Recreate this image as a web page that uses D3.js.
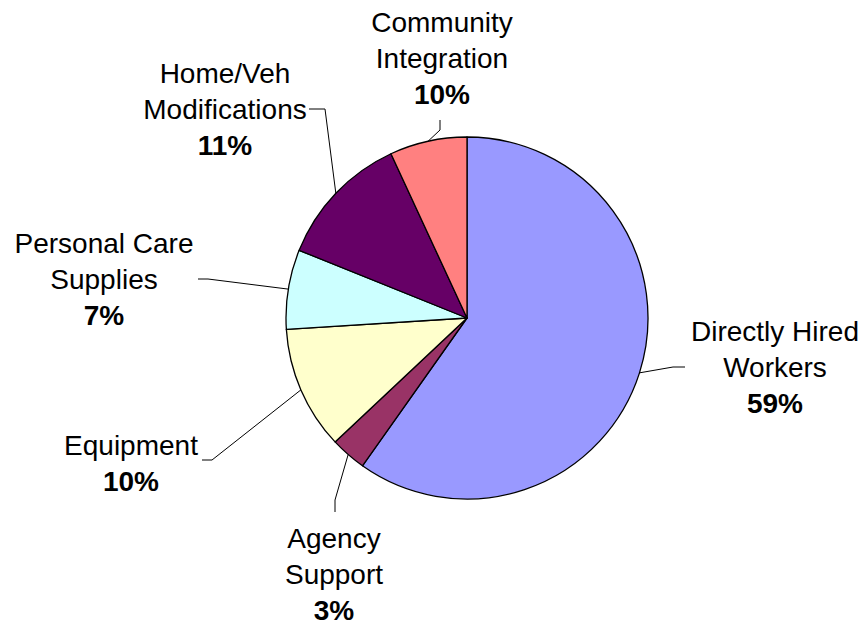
<!DOCTYPE html>
<html>
<head>
<meta charset="utf-8">
<script src="https://cdn.jsdelivr.net/npm/d3@7"></script>
<style>
  body { margin: 0; background: #fff; }
  svg text { font-family: "Liberation Sans", Arial, sans-serif; font-size: 28px; fill: #000; }
</style>
</head>
<body>
<div class="canvas"></div>
<script>
// slice sizes as drawn (share of the circle), clockwise from 12 o'clock
const categories = ['Directly Hired Workers', 'Agency Support', 'Equipment',
  'Personal Care Supplies', 'Home/Veh Modifications', 'Community Integration'];
const values = [59.8, 3.2, 11.0, 7.1, 12.0, 6.9];
// percent labels as printed on the chart
const pctLabels = ['59%', '3%', '10%', '7%', '11%', '10%'];
// label text lines
const labelLines = [
  ['Directly Hired', 'Workers'],
  ['Agency', 'Support'],
  ['Equipment'],
  ['Personal Care', 'Supplies'],
  ['Home/Veh', 'Modifications'],
  ['Community', 'Integration']
];
const colors = ['#9999ff', '#993366', '#ffffcc', '#ccffff', '#660066', '#ff8080'];

// label placement: text centre, first baseline, leader elbow points
const layout = [
  { x: 775, y: 341, pts: [[673, 367], [685, 367]] },
  { x: 334, y: 548, pts: [[335, 500], [335, 512]] },
  { x: 131, y: 455, pts: [[212, 460], [202, 460]] },
  { x: 104, y: 253, pts: [[208, 279], [198, 279]] },
  { x: 225, y: 83, pts: [[325, 109], [309, 109]] },
  { x: 442, y: 32, pts: [[440, 130], [440, 120]] }
];

const width = 864, height = 626;
const cx = 467, cy = 318, radius = 181;
const lineH = 36;

const svg = d3.select('.canvas')
  .append('svg')
  .attr('width', width)
  .attr('height', height);

const graph = svg.append('g')
  .attr('transform', `translate(${cx}, ${cy})`);

const pie = d3.pie().sort(null).value(d => d);
const arcs = pie(values);

const arc = d3.arc().innerRadius(0).outerRadius(radius);
const edgeArc = d3.arc().innerRadius(radius).outerRadius(radius);

graph.selectAll('path.slice')
  .data(arcs)
  .enter()
  .append('path')
  .attr('class', 'slice')
  .attr('d', arc)
  .attr('fill', (d, i) => colors[i])
  .attr('stroke', '#000')
  .attr('stroke-width', 1.3)
  .attr('stroke-linejoin', 'round');

// leader lines from slice mid edge to the label
const line = d3.line();
svg.selectAll('path.leader')
  .data(arcs)
  .enter()
  .append('path')
  .attr('class', 'leader')
  .attr('d', (d, i) => {
    const c = edgeArc.centroid(d);
    return line([[c[0] + cx, c[1] + cy]].concat(layout[i].pts));
  })
  .attr('fill', 'none')
  .attr('stroke', '#000')
  .attr('stroke-width', 1);

// labels
const labels = svg.selectAll('text.label')
  .data(categories)
  .enter()
  .append('text')
  .attr('class', 'label')
  .attr('text-anchor', 'middle')
  .attr('x', (d, i) => layout[i].x)
  .attr('y', (d, i) => layout[i].y);

labels.each(function (d, i) {
  const t = d3.select(this);
  labelLines[i].forEach((s, j) => {
    t.append('tspan')
      .attr('x', layout[i].x)
      .attr('y', layout[i].y + j * lineH)
      .text(s);
  });
  t.append('tspan')
    .attr('x', layout[i].x)
    .attr('y', layout[i].y + labelLines[i].length * lineH)
    .attr('font-weight', 'bold')
    .text(pctLabels[i]);
});
</script>
</body>
</html>
